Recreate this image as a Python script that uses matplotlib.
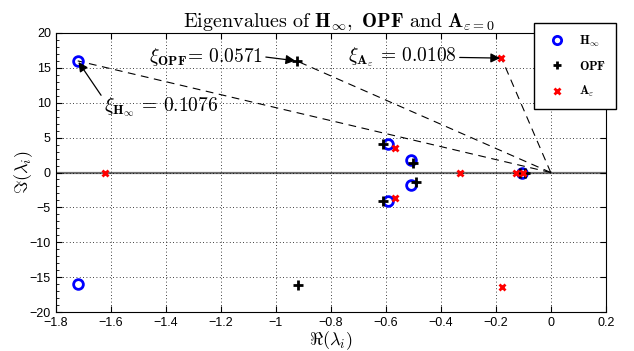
import matplotlib
matplotlib.use("Agg")
import matplotlib.pyplot as plt
from matplotlib.ticker import MultipleLocator

plt.rcParams['mathtext.fontset'] = 'cm'
plt.rcParams['font.family'] = ['Liberation Sans', 'DejaVu Sans']

# Eigenvalues (real, imaginary)
h_re = [-1.72, -1.72, -0.59, -0.59, -0.508, -0.508, -0.103]
h_im = [16.0, -16.0, 4.07, -4.07, 1.82, -1.76, 0.0]
opf_re = [-0.924, -0.92, -0.609, -0.609, -0.50, -0.49, -0.11, -0.095]
opf_im = [16.0, -16.1, 4.07, -4.05, 1.43, -1.43, 0.0, 0.0]
a_re = [-0.179, -0.177, -1.62, -0.566, -0.566, -0.33, -0.127, -0.10]
a_im = [16.4, -16.4, 0.0, 3.5, -3.6, 0.0, 0.0, 0.0]

# damping annotations: (label, target point, text position)
ann_labels = [r'$\xi_{\mathbf{H}_\infty}\,=\,0.1076$', r'$\xi_{\mathbf{OPF}}\!=\,0.0571$',
              r'$\xi_{\mathbf{A}_\varepsilon}\,=\,0.0108$']
ann_targets = [(-1.72, 16.0), (-0.924, 16.0), (-0.179, 16.4)]
ann_text = [(-1.625, 9.3), (-1.046, 16.6), (-0.341, 16.5)]
ann_relpos = [(0.0, 0.85), (1.0, 0.5), (1.0, 0.5)]

fig = plt.figure(figsize=(6.34, 3.51), dpi=100)
ax = fig.add_axes([0.0879, 0.111, 0.8675, 0.795])

ax.axhline(0, color='#707070', lw=1.6, zorder=1)

for (tx, ty) in ann_targets:
    ax.plot([0, tx], [0, ty], ls=(0, (7, 5)), color='black', lw=0.8, zorder=2)

ax.plot(h_re, h_im, 'o', mfc='none', mec='blue', mew=2, ms=7, ls='none',
        label=r'$\mathbf{H}_\infty$', zorder=3)
ax.plot(opf_re, opf_im, '+', color='black', mew=2, ms=7, ls='none',
        label=r'$\mathbf{OPF}$', zorder=4)
ax.plot(a_re, a_im, 'x', color='red', mew=2, ms=5, ls='none',
        label=r'$\mathbf{A}_\varepsilon$', zorder=5)

ha = ['left', 'right', 'right']
for lab, (tx, ty), (px, py), h, rp in zip(ann_labels, ann_targets, ann_text, ha, ann_relpos):
    ax.annotate(lab, xy=(tx, ty), xytext=(px, py), fontsize=14, ha=h, va='center',
                arrowprops=dict(arrowstyle='-|>', color='black', lw=0.9,
                                mutation_scale=14, shrinkA=0, shrinkB=1,
                                relpos=rp),
                zorder=6)

ax.set_xlim(-1.8, 0.2)
ax.set_ylim(-20, 20)
ax.set_xticks([-1.8, -1.6, -1.4, -1.2, -1.0, -0.8, -0.6, -0.4, -0.2, 0.0, 0.2])
ax.set_xticklabels(['−1.8', '−1.6', '−1.4', '−1.2', '−1', '−0.8', '−0.6', '−0.4',
                    '−0.2', '0', '0.2'])
ax.yaxis.set_major_locator(MultipleLocator(5))
ax.yaxis.set_minor_locator(MultipleLocator(1))
ax.tick_params(which='both', direction='in', top=True, right=True, labelsize=9)
ax.tick_params(which='major', length=4)
ax.tick_params(which='minor', length=2, right=False)
ax.grid(True, which='major', ls=(0, (1, 3)), color='black', lw=0.6)

ax.set_xlabel(r'$\Re(\lambda_i)$', fontsize=13, labelpad=0)
ax.set_ylabel(r'$\Im(\lambda_i)$', fontsize=13)
ax.yaxis.set_label_coords(-0.038, 0.5)
ax.set_title(r'$\mathrm{Eigenvalues\ of\ }\mathbf{H}_\infty\mathrm{,\ }\mathbf{OPF}\mathrm{\ and\ }\mathbf{A}_{\varepsilon=\mathbf{0}}$',
             fontsize=14.5, pad=4, x=0.515)

leg = ax.legend(loc='upper right', bbox_to_anchor=(0.982, 0.951),
                bbox_transform=fig.transFigure, fontsize=9, frameon=True,
                fancybox=False, edgecolor='black', framealpha=1,
                borderpad=0.8, labelspacing=0.9, handletextpad=0.8,
                handlelength=2.0, markerscale=0.85)
leg.get_frame().set_linewidth(1.0)

fig.savefig('out.png', dpi=100)
